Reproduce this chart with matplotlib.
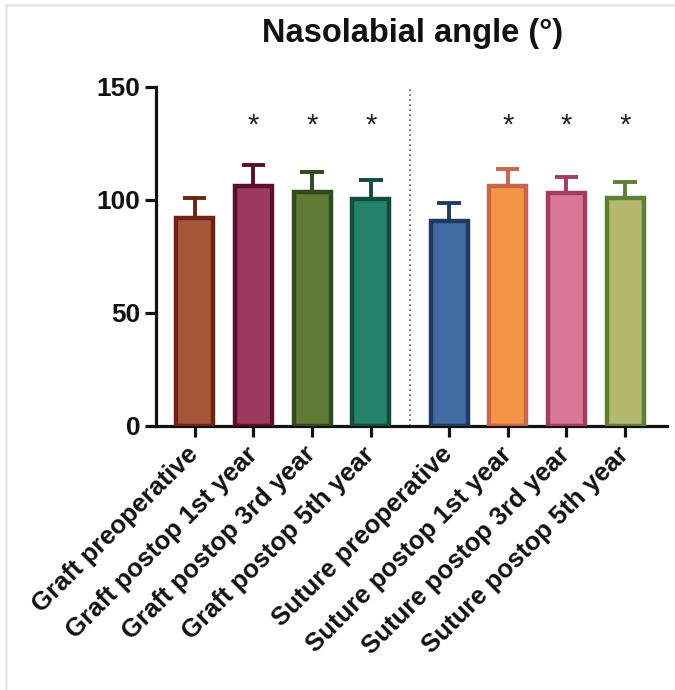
import matplotlib
matplotlib.use("Agg")
import matplotlib.pyplot as plt
import matplotlib.transforms as mtrans
from matplotlib.lines import Line2D
import numpy as np

plt.rcParams['font.family'] = ['Liberation Sans', 'DejaVu Sans']
plt.rcParams['font.weight'] = 'bold'

groups = ["Graft preoperative", "Graft postop 1st year", "Graft postop 3rd year",
          "Graft postop 5th year", "Suture preoperative", "Suture postop 1st year",
          "Suture postop 3rd year", "Suture postop 5th year"]
means = [91.9, 106.0, 103.3, 100.5, 90.8, 106.0, 103.1, 100.8]
sd = [9.1, 9.5, 8.9, 8.3, 7.7, 7.6, 7.1, 6.9]
signif = ["", "*", "*", "*", "", "*", "*", "*"]
fills = ["#A65638", "#9B3A5E", "#5E7A35", "#24826A",
         "#416BA0", "#F39447", "#D87796", "#B3B86E"]
edges = ["#6E2414", "#5A0E2E", "#2E4A1E", "#0E4E3A",
         "#1E3A5E", "#C8654A", "#A63A64", "#5E8036"]

# graft bars at 0..3, suture bars shifted by a gap
xpos = np.array([0, 1, 2, 3, 4.33, 5.33, 6.33, 7.33])

fig = plt.figure(figsize=(6.75, 6.9), dpi=100)
ax = fig.add_axes([0.231, 0.383, 0.757, 0.491])

for x, m, s, fc, ec in zip(xpos, means, sd, fills, edges):
    ax.bar(x, m, width=0.63, color=fc, edgecolor=ec, linewidth=3.2, zorder=3)
    ax.plot([x, x], [m, m + s], color=ec, lw=2.8, zorder=2, solid_capstyle='butt')
    ax.plot([x - 0.2, x + 0.2], [m + s, m + s], color=ec, lw=2.8, zorder=2,
            solid_capstyle='butt')

for x, t in zip(xpos, signif):
    if t:
        ax.text(x, 133, t, ha='center', va='center', fontsize=21, fontweight='normal',
                color='#222222')

ax.axvline((xpos[3] + xpos[4]) / 2, ymin=0, ymax=1, color='#555555', lw=1.2,
           ls=(0, (1, 2)), zorder=1)

ax.set_xlim(-0.66, 8.04)
ax.set_ylim(0, 150)
ax.set_yticks([0, 50, 100, 150])
ax.set_xticks(xpos)
ax.set_xticklabels(groups, rotation=45, ha='right', va='center', rotation_mode='anchor',
                   fontsize=18.5, fontweight='bold', color='#111111')
shift = mtrans.ScaledTranslation(4 / 100, -2 / 100, fig.dpi_scale_trans)
for lab in ax.get_xticklabels():
    lab.set_transform(lab.get_transform() + shift)
for lab in ax.get_yticklabels():
    lab.set_fontsize(19)
    lab.set_fontweight('bold')
    lab.set_color('#111111')

for side in ['top', 'right']:
    ax.spines[side].set_visible(False)
for side in ['left', 'bottom']:
    ax.spines[side].set_linewidth(2.3)
    ax.spines[side].set_color('#111111')
ax.tick_params(axis='both', width=2.3, color='#111111')
ax.tick_params(axis='y', length=8, pad=3)
ax.tick_params(axis='x', length=8, pad=10)

fig.text(0.611, 0.952, "Nasolabial angle (°)", ha='center', va='center',
         fontsize=23.5, fontweight='bold', color='#111111')

# light frame around the panel
fig.add_artist(Line2D([6 / 675, 1], [1 - 5 / 690, 1 - 5 / 690], color='#E4E4E4', lw=1.8,
                      transform=fig.transFigure))
fig.add_artist(Line2D([6 / 675, 6 / 675], [0, 1 - 5 / 690], color='#E4E4E4', lw=1.8,
                      transform=fig.transFigure))

fig.savefig("out.png", dpi=100)
